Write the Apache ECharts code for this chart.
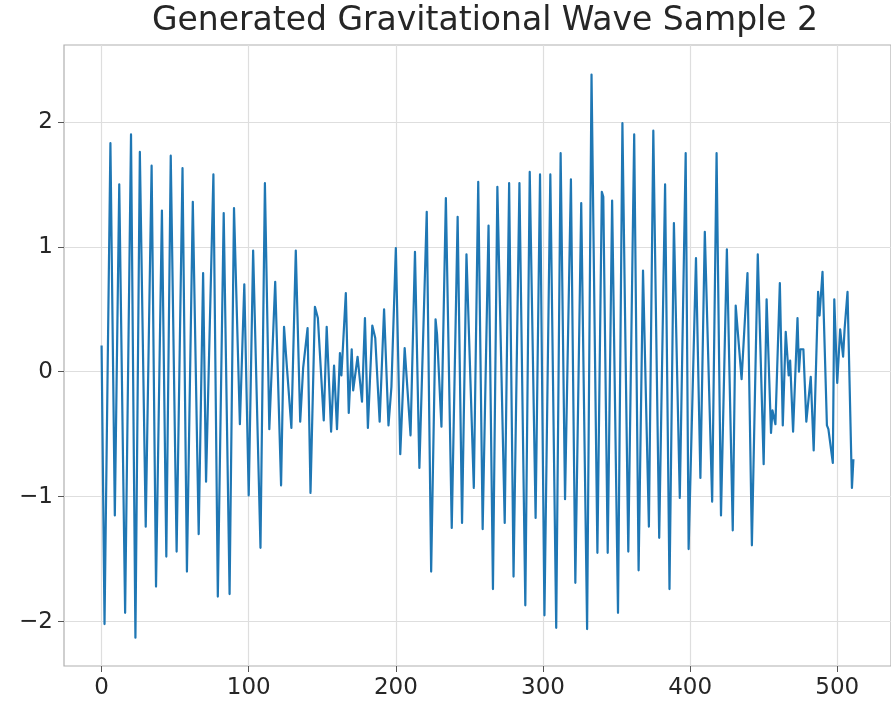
<!DOCTYPE html>
<html>
<head>
<meta charset="utf-8">
<script src="https://cdn.jsdelivr.net/npm/echarts@6/dist/echarts.min.js"></script>
<style>
  html, body { margin: 0; padding: 0; background: #fff; }
  #chart { width: 891px; height: 709px; }
</style>
</head>
<body>
<div id="chart"></div>
<script>
// turning points of the wave (sample index, strain)
const sampleIdx = [
  0, 2, 6, 9, 12, 16, 20, 23, 26, 30, 34, 37, 41, 44, 47, 51, 55, 58, 62, 66,
  69, 71, 76, 79, 83, 87, 90, 94, 97, 100, 103, 108, 111, 114, 118, 122, 124, 126, 129, 132,
  135, 137, 140, 142, 145, 147, 151, 153, 156, 158, 160, 162, 163, 166, 168, 170, 171, 174, 177, 179,
  181, 184, 186, 189, 192, 195, 197, 200, 203, 206, 210, 213, 216, 221, 224, 227, 228, 231, 234, 238,
  242, 245, 248, 253, 256, 259, 263, 266, 269, 274, 277, 280, 284, 288, 291, 295, 298, 301, 305, 309,
  312, 315, 319, 322, 326, 330, 333, 337, 340, 341, 344, 347, 351, 354, 358, 362, 365, 368, 372, 375,
  379, 383, 386, 389, 393, 397, 399, 404, 407, 410, 415, 418, 421, 425, 429, 431, 435, 439, 442, 446,
  450, 452, 455, 456, 458, 461, 463, 465, 467, 468, 470, 473, 474, 475, 477, 479, 482, 484, 487, 488,
  490, 493, 494, 497, 498, 500, 502, 504, 505, 507, 510, 511
];
const strain = [
  0.21, -2.02, 1.83, -1.15, 1.50, -1.93, 1.90, -2.13, 1.76, -1.24, 1.65, -1.72, 1.29, -1.48, 1.73, -1.44, 1.63, -1.60, 1.36, -1.30,
  0.79, -0.88, 1.58, -1.80, 1.27, -1.78, 1.31, -0.42, 0.70, -0.99, 0.97, -1.41, 1.51, -0.46, 0.72, -0.91, 0.36, 0.03, -0.45, 0.97,
  -0.40, 0.03, 0.35, -0.97, 0.52, 0.43, -0.39, 0.36, -0.48, 0.05, -0.46, 0.15, -0.03, 0.63, -0.33, 0.18, -0.15, 0.12, -0.24, 0.43,
  -0.45, 0.37, 0.27, -0.40, 0.50, -0.43, -0.12, 0.99, -0.66, 0.19, -0.51, 0.96, -0.77, 1.28, -1.60, 0.42, 0.30, -0.44, 1.39, -1.25,
  1.24, -1.21, 0.94, -0.93, 1.52, -1.26, 1.17, -1.74, 1.48, -1.21, 1.51, -1.64, 1.51, -1.87, 1.60, -1.17, 1.58, -1.95, 1.58, -2.05,
  1.75, -1.02, 1.54, -1.69, 1.35, -2.06, 2.38, -1.45, 1.44, 1.40, -1.45, 1.37, -1.93, 1.99, -1.44, 1.90, -1.59, 0.81, -1.24, 1.93,
  -1.33, 1.50, -1.74, 1.19, -1.01, 1.75, -1.42, 0.91, -0.85, 1.12, -1.04, 1.75, -1.15, 0.98, -1.27, 0.53, -0.06, 0.79, -1.39, 0.94,
  -0.74, 0.58, -0.49, -0.31, -0.42, 0.71, -0.43, 0.32, -0.03, 0.09, -0.48, 0.43, 0.00, 0.18, 0.18, -0.40, -0.04, -0.63, 0.64, 0.45,
  0.80, -0.43, -0.46, -0.73, 0.58, -0.09, 0.34, 0.12, 0.34, 0.64, -0.93, -0.70
];
const xTicks = [0, 100, 200, 300, 400, 500];
const yTicks = [-2, -1, 0, 1, 2];

const chart = echarts.init(document.getElementById('chart'));
const font = 'DejaVu Sans';
const minus = v => String(v).replace('-', '\u2212');

const option = {
  animation: false,
  backgroundColor: '#ffffff',
  title: {
    text: 'Generated Gravitational Wave Sample 2',
    left: 480,
    top: 0,
    textAlign: 'center',
    textStyle: { fontFamily: font, fontSize: 33, fontWeight: 'normal', color: '#262626' }
  },
  grid: {
    left: 64, right: -3, top: 45, bottom: 43,
    show: true, borderColor: '#b0b0b0', borderWidth: 1.2
  },
  xAxis: {
    type: 'value',
    min: -25.55,
    max: 536.55,
    axisLine: { show: false, onZero: false },
    axisTick: { show: true, length: 6, lineStyle: { color: '#555' }, customValues: xTicks },
    axisLabel: { customValues: xTicks, fontFamily: font, fontSize: 23, color: '#262626', margin: 11 },
    splitLine: { show: true, lineStyle: { color: '#dedede', width: 1.2 } }
  },
  yAxis: {
    type: 'value',
    min: -2.356,
    max: 2.616,
    axisLine: { show: false, onZero: false },
    axisTick: { show: true, length: 6, lineStyle: { color: '#555' }, customValues: yTicks },
    axisLabel: { customValues: yTicks, fontFamily: font, fontSize: 23, color: '#262626', margin: 11, formatter: minus },
    splitLine: { show: true, lineStyle: { color: '#dedede', width: 1.2 } }
  },
  series: [{
    type: 'line',
    data: sampleIdx.map((x, i) => [x, strain[i]]),
    showSymbol: false,
    lineStyle: { color: '#1f77b4', width: 2.2, join: 'round' },
    clip: true
  }]
};
chart.setOption(option);
</script>
</body>
</html>
